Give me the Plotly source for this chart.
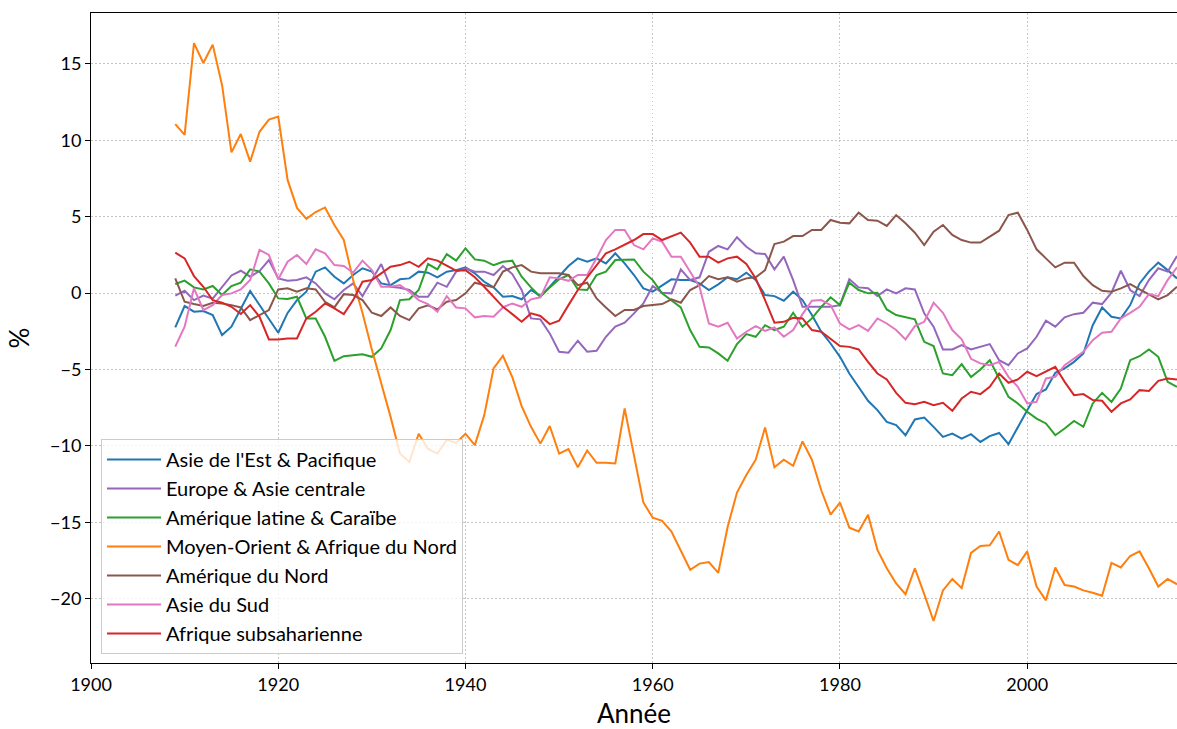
import plotly.graph_objects as go

# Années couvertes par les séries (1909-2016)
years = list(range(1909, 2017))

# Écarts en % par région (une valeur par année)
asie_est_pacifique = [
    -2.25, -0.85, -1.22, -1.18, -1.44, -2.75, -2.2, -1.0, 0.13, -0.78, -1.7,
    -2.6, -1.3, -0.46, 0.09, 1.4, 1.68, 1.07, 0.63, 1.18, 1.62,
    1.4, 0.63, 0.52, 0.9, 0.96, 1.4, 1.33, 1.03, 1.4, 1.5,
    1.68, 1.29, 0.74, 0.37, -0.24, -0.2, -0.41, 0.2, -0.2, 0.41,
    1.07, 1.77, 2.27, 2.05, 2.27, 1.94, 2.6, 1.94, 1.18, 0.31,
    0.09, 0.52, 0.9, 0.85, 0.85, 0.63, 0.2, 0.57, 1.03, 0.9,
    1.33, 0.85, -0.13, -0.2, -0.5, 0.09, -0.46, -1.44, -2.53, -3.3,
    -4.17, -5.26, -6.13, -7.05, -7.66, -8.43, -8.64, -9.3, -8.27, -8.14,
    -8.75, -9.41, -9.19, -9.52, -9.23, -9.74, -9.36, -9.15, -9.89, -8.75,
    -7.66, -6.61, -6.31, -5.22, -4.93, -4.5, -3.95, -2.1, -0.94, -1.55,
    -1.66, -0.79, 0.63, 1.4, 1.99, 1.5, 0.96,
]

europe_asie_centrale = [
    -0.17, 0.15, -0.46, -0.17, -0.37, 0.4, 1.15, 1.46, 1.07, 1.44, 2.16,
    0.96, 0.8, 0.85, 1.03, 0.63, -0.02, -0.41, 0.2, 0.63, -0.2,
    0.85, 1.9, 0.41, 0.35, 0.2, -0.24, -0.24, 0.68, 0.41, 1.4,
    1.62, 1.4, 1.4, 1.18, 1.77, 1.24, 0.2, -1.66, -1.72, -2.64,
    -3.84, -3.9, -3.12, -3.84, -3.78, -2.86, -2.2, -1.94, -1.33, -0.68,
    0.46, 0.02, -0.02, 1.55, 0.85, 1.03, 2.7, 3.08, 2.86, 3.65,
    3.03, 2.6, 2.55, 1.55, 2.38, 0.85, -0.9, -0.9, -0.9, -0.9,
    -0.79, 0.9, 0.37, 0.31, -0.2, 0.24, -0.02, 0.31, 0.24, -1.33,
    -2.2, -3.69, -3.69, -3.4, -3.69, -3.52, -3.34, -4.39, -4.72, -3.95,
    -3.62, -2.86, -1.81, -2.2, -1.59, -1.38, -1.29, -0.63, -0.72, 0.02,
    1.46, 0.2, -0.2, 0.85, 1.62, 1.4, 2.42,
]

amerique_latine_caraibe = [
    0.59, 0.81, 0.37, 0.24, 0.46, -0.13, 0.46, 0.68, 1.55, 1.4, 0.63,
    -0.35, -0.39, -0.24, -1.66, -1.66, -2.86, -4.43, -4.13, -4.06, -4.0,
    -4.17, -3.62, -2.42, -0.46, -0.41, 0.2, 1.9, 1.55, 2.55, 2.12,
    2.93, 2.2, 2.12, 1.83, 2.05, 2.12, 1.07, 0.37, -0.24, 0.37,
    0.9, 1.18, 0.24, 0.2, 1.18, 1.4, 2.16, 2.2, 2.2, 1.4,
    0.85, -0.02, -0.46, -0.94, -2.42, -3.52, -3.56, -3.95, -4.43, -3.34,
    -2.68, -2.86, -2.1, -2.42, -2.2, -1.29, -2.2, -1.66, -0.9, -0.28,
    -0.79, 0.68, 0.2, -0.02, 0.02, -1.07, -1.44, -1.59, -1.72, -3.19,
    -3.47, -5.26, -5.37, -4.65, -5.5, -5.0, -4.39, -5.59, -6.79, -7.22,
    -7.77, -8.21, -8.53, -9.3, -8.86, -8.36, -8.75, -7.22, -6.53, -7.12,
    -6.24, -4.39, -4.13, -3.69, -4.17, -5.81, -6.13,
]

moyen_orient_afrique_nord = [
    11.05, 10.35, 16.35, 15.05, 16.25, 13.6, 9.2, 10.4, 8.6, 10.55, 11.35,
    11.55, 7.4, 5.57, 4.85, 5.3, 5.6, 4.45, 3.47, 0.85, -1.3,
    -3.7, -5.9, -8.1, -10.5, -11.05, -9.2, -10.2, -10.5, -9.6, -9.8,
    -9.2, -9.95, -8.0, -4.93, -4.1, -5.5, -7.4, -8.75, -9.85, -8.7,
    -10.5, -10.2, -11.4, -10.3, -11.1, -11.1, -11.15, -7.55, -10.7, -13.7,
    -14.7, -14.9, -15.6, -16.9, -18.1, -17.7, -17.6, -18.3, -15.3, -13.05,
    -11.9, -10.9, -8.8, -11.4, -10.9, -11.3, -9.7, -10.9, -12.9, -14.5,
    -13.7, -15.35, -15.6, -14.5, -16.8, -18.0, -19.0, -19.7, -18.0, -19.7,
    -21.45, -19.45, -18.7, -19.3, -17.0, -16.55, -16.5, -15.6, -17.45, -17.8,
    -16.9, -19.2, -20.1, -17.95, -19.1, -19.2, -19.45, -19.6, -19.8, -17.65,
    -17.95, -17.2, -16.9, -18.0, -19.2, -18.7, -19.05,
]

amerique_nord = [
    0.96, -0.57, -0.72, -0.85, -0.63, -0.68, -0.79, -0.94, -1.77, -1.44, -1.11,
    0.24, 0.31, 0.09, 0.31, 0.24, -0.57, -0.94, -0.07, -0.13, -0.46,
    -1.29, -1.5, -0.94, -1.5, -1.77, -1.0, -0.8, -1.07, -0.57, -0.46,
    -0.02, 0.68, 0.52, 0.37, 1.4, 1.68, 1.83, 1.4, 1.29, 1.29,
    1.29, 1.18, 0.52, 0.68, -0.35, -0.94, -1.5, -1.11, -1.11, -0.85,
    -0.79, -0.72, -0.41, -0.63, 0.2, 0.52, 1.11, 0.9, 1.03, 0.74,
    0.96, 1.03, 1.5, 3.21, 3.36, 3.73, 3.73, 4.13, 4.13, 4.78,
    4.6, 4.56, 5.26, 4.78, 4.73, 4.39, 5.1, 4.56, 3.95, 3.14,
    4.01, 4.45, 3.8, 3.47, 3.3, 3.3, 3.69, 4.08, 5.1, 5.26,
    4.13, 2.86, 2.27, 1.68, 1.99, 1.99, 1.11, 0.52, 0.15, 0.09,
    0.31, 0.59, 0.24, -0.07, -0.41, -0.13, 0.41,
]

asie_sud = [
    -3.5, -2.2, 0.31, -1.11, -0.79, -0.13, -0.02, 0.24, 0.85, 2.82, 2.49,
    0.9, 2.05, 2.49, 1.9, 2.86, 2.6, 1.83, 1.77, 1.33, 2.12,
    1.5, 0.41, 0.41, 0.52, 0.09, -0.46, -0.72, -1.22, -0.2, -0.94,
    -1.0, -1.59, -1.5, -1.55, -0.94, -0.68, -0.9, -0.41, -0.28, 1.03,
    0.96, 0.8, 1.18, 1.18, 2.27, 3.47, 4.13, 4.13, 3.14, 2.86,
    3.58, 3.36, 2.38, 2.38, 1.4, 0.41, -1.99, -2.2, -1.94, -2.97,
    -2.53, -2.16, -2.47, -2.25, -2.86, -2.42, -1.38, -0.5, -0.46, -0.79,
    -1.99, -2.38, -2.1, -2.47, -1.66, -1.99, -2.42, -3.03, -2.16, -1.88,
    -0.63, -1.29, -2.42, -3.03, -4.3, -4.6, -4.72, -4.5, -5.48, -6.13,
    -7.22, -7.11, -5.59, -5.48, -4.72, -4.28, -3.84, -3.08, -2.6, -2.53,
    -1.66, -1.29, -0.9, -0.07, -0.2, 0.85, 1.68,
]

afrique_subsaharienne = [
    2.64, 2.27, 1.11, 0.41, -0.46, -0.63, -0.9, -1.37, -0.79, -1.55, -3.03,
    -3.03, -2.97, -2.97, -1.66, -1.22, -0.68, -1.0, -1.38, -0.46, 0.74,
    0.85, 1.29, 1.72, 1.83, 2.05, 1.72, 2.27, 2.12, 1.77, 1.46,
    1.5, 1.03, 0.41, -0.24, -0.9, -1.38, -1.88, -1.33, -1.5, -2.03,
    -1.81, -0.79, 0.2, 1.03, 1.83, 2.6, 2.86, 3.14, 3.47, 3.86,
    3.86, 3.47, 3.69, 3.95, 3.3, 2.38, 2.38, 1.99, 2.27, 2.38,
    1.9, 0.96, -0.46, -1.94, -1.88, -1.62, -1.66, -2.42, -2.53, -3.03,
    -3.47, -3.52, -3.69, -4.5, -5.26, -5.65, -6.53, -7.18, -7.27, -7.12,
    -7.33, -7.18, -7.7, -6.9, -6.46, -6.61, -6.13, -5.26, -5.87, -5.65,
    -5.15, -5.44, -5.15, -4.82, -5.81, -6.68, -6.61, -7.0, -7.05, -7.77,
    -7.22, -6.96, -6.35, -6.4, -5.74, -5.59, -5.65,
]

series = [
    ("Asie de l'Est & Pacifique", asie_est_pacifique, "#1f77b4"),
    ("Europe & Asie centrale", europe_asie_centrale, "#9467bd"),
    ("Amérique latine & Caraïbe", amerique_latine_caraibe, "#2ca02c"),
    ("Moyen-Orient & Afrique du Nord", moyen_orient_afrique_nord, "#ff7f0e"),
    ("Amérique du Nord", amerique_nord, "#8c564b"),
    ("Asie du Sud", asie_sud, "#e377c2"),
    ("Afrique subsaharienne", afrique_subsaharienne, "#d62728"),
]

x_ticks = [1900, 1920, 1940, 1960, 1980, 2000]
y_ticks = [-20, -15, -10, -5, 0, 5, 10, 15]
y_tick_labels = ["\u221220", "\u221215", "\u221210", "\u22125", "0", "5", "10", "15"]

FONT = "Lato, 'Open Sans', sans-serif"

fig = go.Figure()
for i, (name, values, color) in enumerate(series):
    fig.add_trace(go.Scatter(
        x=years, y=values, name=name, mode="lines",
        line=dict(color=color, width=2),
        legendgroup=f"g{i}",
    ))

axis_common = dict(
    showline=True, linecolor="black", linewidth=1, mirror=True,
    ticks="outside", ticklen=5, tickcolor="black", tickwidth=1,
    showgrid=True, gridcolor="#c4c4c4", griddash="1.5px,2.5px", gridwidth=1,
    zeroline=False, tickfont=dict(family=FONT, size=18, color="black"),
)

fig.update_layout(
    width=1177, height=729,
    margin=dict(l=91, r=0, t=13, b=66),
    paper_bgcolor="white", plot_bgcolor="white",
    font=dict(family=FONT, color="black"),
    xaxis=dict(
        range=[1900, 2016], tickvals=x_ticks,
        title=dict(text="Année", font=dict(family=FONT, size=26), standoff=16),
        **axis_common,
    ),
    yaxis=dict(
        range=[-24.2, 18.32], tickvals=y_ticks, ticktext=y_tick_labels,
        title=dict(text="%", font=dict(family=FONT, size=26), standoff=12),
        **axis_common,
    ),
    legend=dict(
        x=0.0092, y=0.014, xanchor="left", yanchor="bottom",
        bgcolor="rgba(255,255,255,0.8)", bordercolor="#cccccc", borderwidth=1,
        font=dict(family=FONT, size=20, color="black"),
        itemwidth=54, tracegroupgap=0, traceorder="grouped",
    ),
    showlegend=True,
)

fig.write_html("out.html")
